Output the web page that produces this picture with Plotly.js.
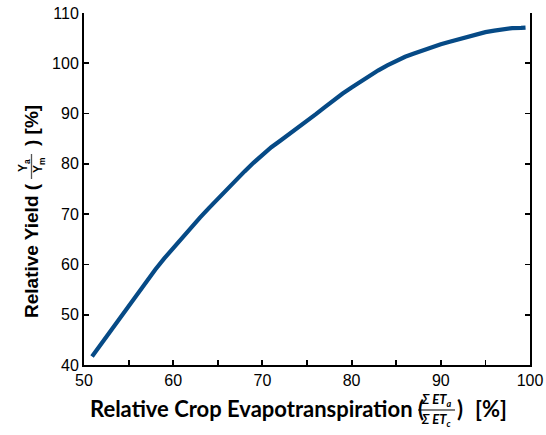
<!DOCTYPE html>
<html>
<head>
<meta charset="utf-8">
<script src="https://cdn.plot.ly/plotly-3.0.1.min.js"></script>
<style>html,body{margin:0;padding:0;background:#fff;}#chart{width:546px;height:435px;}</style>
</head>
<body>
<div id="chart"></div>
<script>
const relET = [50.9,52,53,54,55,56,57,58,59,60,61,62,63,64,65,66,67,68,69,70,71,72,73,74,75,76,77,78,79,80,81,82,83,84,85,86,87,88,89,90,91,92,93,94,95,96,97,98,99,99.5];
const relYield = [41.7,44.4,46.8,49.3,51.9,54.3,56.7,59.0,61.2,63.3,65.3,67.3,69.3,71.2,73.1,75.0,76.8,78.5,80.2,81.8,83.3,84.6,85.9,87.2,88.4,89.9,91.3,92.75,94.0,95.2,96.4,97.5,98.6,99.6,100.5,101.3,101.95,102.6,103.2,103.8,104.3,104.8,105.3,105.8,106.2,106.5,106.8,107.0,107.05,107.1];
const xTickVals = [50,55,60,65,70,75,80,85,90,95,100];
const xTickText = ['50','','60','','70','','80','','90','','100'];
const yTickVals = [40,50,60,70,80,90,100,110];
const yTickText = ['40','50','60','70','80','90','100','110'];

const L = 84, T = 13, W = 446, H = 352;
const px = v => (v - L) / W;
const py = v => (T + H - v) / H;

const tickFont = {family: 'Liberation Sans, Arial, sans-serif', size: 16, color: '#000'};
const xTitleFont = {family: 'Lato, sans-serif', size: 22, color: '#000', weight: 'bold'};
const xFracFont = {family: 'Lato, sans-serif', size: 13, color: '#000'};
const yTitleFont = {family: 'Liberation Sans, Arial, sans-serif', size: 19, color: '#000', weight: 'bold'};
const yFracFont = {family: 'Liberation Sans, Arial, sans-serif', size: 12, color: '#000'};

const trace = {
  x: relET, y: relYield, type: 'scatter', mode: 'lines',
  line: {color: '#064a86', width: 4.2}, hoverinfo: 'skip'
};

const annotations = [
  // x title
  {xref:'paper', yref:'paper', x: px(88), y: py(408), xanchor:'left', yanchor:'middle', showarrow:false,
   text:'<b>Relative Crop Evapotranspiration (</b>', font: xTitleFont},
  {xref:'paper', yref:'paper', x: px(436), y: py(400), xanchor:'center', yanchor:'middle', showarrow:false,
   text:'<b><i>Σ ET<sub>a</sub></i></b>', font: xFracFont},
  {xref:'paper', yref:'paper', x: px(436), y: py(420), xanchor:'center', yanchor:'middle', showarrow:false,
   text:'<b><i>Σ ET<sub>c</sub></i></b>', font: xFracFont},
  {xref:'paper', yref:'paper', x: px(455), y: py(408), xanchor:'left', yanchor:'middle', showarrow:false,
   text:'<b>)</b>', font: xTitleFont},
  {xref:'paper', yref:'paper', x: px(473), y: py(408), xanchor:'left', yanchor:'middle', showarrow:false,
   text:'<b>[%]</b>', font: xTitleFont},
  // y title
  {xref:'paper', yref:'paper', x: px(31), y: py(251), xanchor:'center', yanchor:'middle', textangle:-90, showarrow:false,
   text:'<b>Relative Yield (</b>', font: yTitleFont},
  {xref:'paper', yref:'paper', x: px(24), y: py(166), xanchor:'center', yanchor:'middle', textangle:-90, showarrow:false,
   text:'<b>Y<sub>a</sub></b>', font: yFracFont},
  {xref:'paper', yref:'paper', x: px(39), y: py(166), xanchor:'center', yanchor:'middle', textangle:-90, showarrow:false,
   text:'<b>Y<sub>m</sub></b>', font: yFracFont},
  {xref:'paper', yref:'paper', x: px(31), y: py(126), xanchor:'center', yanchor:'middle', textangle:-90, showarrow:false,
   text:'<b>) [%]</b>', font: yTitleFont}
];

const shapes = [
  {type:'line', xref:'paper', yref:'paper', x0: px(418), x1: px(455), y0: py(410), y1: py(410), line:{color:'#555', width:1.5}},
  {type:'line', xref:'paper', yref:'paper', x0: px(31.5), x1: px(31.5), y0: py(154), y1: py(179), line:{color:'#555', width:1.3}}
];

const layout = {
  width: 546, height: 435,
  margin: {l: L, r: 546 - L - W, t: T, b: 435 - T - H, pad: 0},
  paper_bgcolor: '#fff', plot_bgcolor: '#fff',
  showlegend: false,
  xaxis: {
    range: [50, 100], tickvals: xTickVals, ticktext: xTickText,
    ticks: 'inside', ticklen: 5, tickwidth: 1.8, tickcolor: '#000',
    showline: true, linecolor: '#000', linewidth: 2, mirror: false,
    showgrid: false, zeroline: false, tickfont: tickFont, fixedrange: true
  },
  yaxis: {
    range: [40, 110], tickvals: yTickVals, ticktext: yTickText,
    ticks: 'inside', ticklen: 5, tickwidth: 1.8, tickcolor: '#000',
    showline: true, linecolor: '#000', linewidth: 2, mirror: 'ticks',
    showgrid: false, zeroline: false, tickfont: tickFont, fixedrange: true
  },
  annotations: annotations,
  shapes: shapes
};

Plotly.newPlot('chart', [trace], layout, {staticPlot: true, displayModeBar: false});
</script>
</body>
</html>
